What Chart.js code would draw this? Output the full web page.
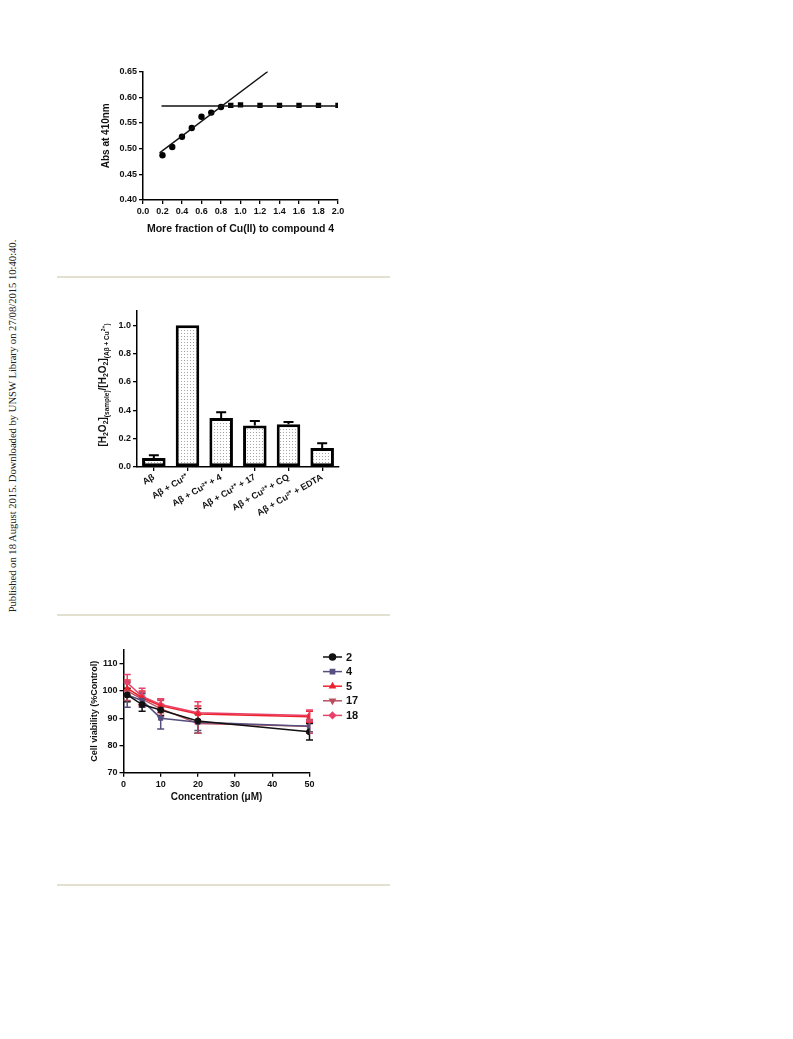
<!DOCTYPE html>
<html lang="en">

<head>
    <meta charset="UTF-8">
    <title>Cu(II) binding, H2O2 and cell viability</title>
    <style>
        body { margin: 0; background: #fff; width: 793px; height: 1039px; position: relative; overflow: hidden; }
        .box { position: absolute; }
        .rule { position: absolute; left: 57px; width: 333px; height: 2px; background: #e3e0d0; }
        #side {
            position: absolute; left: 12px; top: 426px; white-space: nowrap;
            font-family: "Liberation Serif", serif; font-size: 10.6px; color: #222;
            transform: translate(-50%, -50%) rotate(-90deg);
        }
    </style>
</head>

<body>

    <div id="side">Published on 18 August 2015. Downloaded by UNSW Library on 27/08/2015 10:40:40.</div>

    <div class="box" style="left: 88px; top: 58px;"><canvas id="chart1" width="265" height="185"></canvas></div>
    <div class="rule" style="top: 276px;"></div>

    <div class="box" style="left: 85px; top: 300px;"><canvas id="chart2" width="265" height="235"></canvas></div>
    <div class="rule" style="top: 614px;"></div>

    <div class="box" style="left: 75px; top: 640px;"><canvas id="chart3" width="300" height="171"></canvas></div>
    <div class="rule" style="top: 884px;"></div>

    <script src="https://cdn.jsdelivr.net/npm/chart.js"></script>
    <script>
        // ---- chart 1 : titration ----
        const v_circX = [0.2, 0.3, 0.4, 0.5, 0.6, 0.7, 0.8];
        const v_circY = [0.487, 0.503, 0.523, 0.540, 0.562, 0.570, 0.581];
        const v_sqX = [0.9, 1.0, 1.2, 1.4, 1.6, 1.8, 2.0];
        const v_sqY = [0.584, 0.585, 0.584, 0.584, 0.584, 0.584, 0.584];
        const v_slopeX = [0.17, 1.28];
        const v_slopeY = [0.4917, 0.65];
        const v_flatX = [0.19, 2.0];
        const v_flatY = [0.583, 0.583];

        // ---- chart 2 : H2O2 ----
        const v_groups = ['Aβ', 'Aβ + Cu²⁺', 'Aβ + Cu²⁺ + 4', 'Aβ + Cu²⁺ + 17', 'Aβ + Cu²⁺ + CQ', 'Aβ + Cu²⁺ + EDTA'];
        const v_ratio = [0.064, 1.0, 0.346, 0.292, 0.301, 0.134];
        const v_ratioErr = [0.018, 0, 0.04, 0.033, 0.017, 0.033];

        // ---- chart 3 : cell viability ----
        const v_conc = [1, 5, 10, 20, 50];
        const v_names = ['2', '4', '5', '17', '18'];
        const v_s2 = [98.5, 95, 93, 89, 85];
        const v_s4 = [98.5, 96.5, 90, 88.5, 87];
        const v_s5 = [101, 97.5, 94.5, 91.5, 90.5];
        const v_s17 = [100, 97, 93.5, 88, 87];
        const v_s18 = [103, 98, 95, 92, 91];
        const v_e2 = [2.5, 2.5, 2, 4.5, 3];
        const v_e4 = [4.5, 2.5, 4, 3, 2];
        const v_e5 = [3, 2.5, 2.5, 3, 2];
        const v_e17 = [3.5, 2.5, 3, 3.5, 2.5];
        const v_e18 = [3, 3, 2, 4, 2];

        const FONT = '"Liberation Sans", Arial, sans-serif';
        Chart.defaults.font.family = FONT;
        Chart.defaults.color = '#111';

        function pairs(xs, ys) {
            return xs.map((x, i) => ({ x: x, y: ys[i] }));
        }

        function axisStyle() {
            return {
                grid: { drawOnChartArea: false, color: '#000', tickLength: 4, lineWidth: 1.3 },
                border: { color: '#000', width: 1.5 },
            };
        }

        // chart 1
        const c1x = axisStyle(), c1y = axisStyle();
        new Chart(document.getElementById('chart1'), {
            type: 'scatter',
            data: {
                datasets: [
                    { data: pairs(v_slopeX, v_slopeY), showLine: true, pointRadius: 0, borderColor: '#111', borderWidth: 1.4 },
                    { data: pairs(v_flatX, v_flatY), showLine: true, pointRadius: 0, borderColor: '#111', borderWidth: 1.4 },
                    { data: pairs(v_circX, v_circY), pointStyle: 'circle', pointRadius: 3.2, backgroundColor: '#000', borderColor: '#000', borderWidth: 0 },
                    { data: pairs(v_sqX, v_sqY), pointStyle: 'rect', pointRadius: 3.8, backgroundColor: '#000', borderColor: '#000', borderWidth: 0 },
                ]
            },
            options: {
                responsive: false, animation: false,
                layout: { padding: { left: 8.5, top: 13.5, right: 15, bottom: 4 } },
                plugins: { legend: { display: false }, tooltip: { enabled: false } },
                scales: {
                    x: {
                        type: 'linear', min: 0, max: 2,
                        grid: c1x.grid, border: c1x.border,
                        ticks: { stepSize: 0.2, color: '#111', padding: 2, font: { size: 9, weight: 'bold' }, callback: v => v.toFixed(1), maxRotation: 0 },
                        title: { display: true, text: 'More fraction of Cu(II) to compound 4', color: '#111', font: { size: 10.5, weight: 'bold' } },
                        afterFit: s => { s.height = 39; }
                    },
                    y: {
                        min: 0.4, max: 0.65,
                        grid: c1y.grid, border: c1y.border,
                        ticks: { stepSize: 0.05, color: '#111', padding: 2, font: { size: 9, weight: 'bold' }, callback: v => v.toFixed(2) },
                        title: { display: true, text: 'Abs at 410nm', color: '#111', font: { size: 10, weight: 'bold' } },
                        afterFit: s => { s.width = 46.5; }
                    }
                }
            }
        });

        // chart 2
        const pc = document.createElement('canvas');
        pc.width = 3; pc.height = 3;
        const pctx = pc.getContext('2d');
        pctx.fillStyle = '#fff'; pctx.fillRect(0, 0, 3, 3);
        pctx.fillStyle = '#a6a6a6'; pctx.fillRect(0, 0, 1, 1);
        const stipple = pctx.createPattern(pc, 'repeat');

        const barErrors = {
            id: 'barErrors',
            afterDatasetsDraw(chart) {
                const ctx = chart.ctx, ys = chart.scales.y;
                const meta = chart.getDatasetMeta(0);
                ctx.save();
                ctx.strokeStyle = '#000'; ctx.lineWidth = 2;
                meta.data.forEach((bar, i) => {
                    if (!v_ratioErr[i]) return;
                    const y0 = ys.getPixelForValue(v_ratio[i]);
                    const y1 = ys.getPixelForValue(v_ratio[i] + v_ratioErr[i]);
                    ctx.beginPath();
                    ctx.moveTo(bar.x, y0); ctx.lineTo(bar.x, y1);
                    ctx.moveTo(bar.x - 5, y1); ctx.lineTo(bar.x + 5, y1);
                    ctx.stroke();
                });
                ctx.restore();
            }
        };

        // y-axis title with sub/superscripts
        const richTitle = {
            id: 'richTitle',
            afterDraw(chart) {
                const ctx = chart.ctx;
                const parts = [
                    ['[H', 10, 0], ['2', 7, 2.5], ['O', 10, 0], ['2', 7, 2.5], [']', 10, 0],
                    ['(sample)', 6.5, 3],
                    ['/[H', 10, 0], ['2', 7, 2.5], ['O', 10, 0], ['2', 7, 2.5], [']', 10, 0],
                    ['(Aβ + Cu', 6.5, 3], ['2+', 5, -0.5], [')', 6.5, 3]
                ];
                ctx.save();
                let w = 0;
                parts.forEach(p => { ctx.font = 'bold ' + p[1] + 'px ' + FONT; w += ctx.measureText(p[0]).width; });
                ctx.translate(102 - 85, 385 - 300);
                ctx.rotate(-Math.PI / 2);
                ctx.fillStyle = '#111';
                ctx.textBaseline = 'alphabetic';
                let x = -w / 2;
                parts.forEach(p => {
                    ctx.font = 'bold ' + p[1] + 'px ' + FONT;
                    ctx.fillText(p[0], x, 3.5 + p[2]);
                    x += ctx.measureText(p[0]).width;
                });
                ctx.restore();
            }
        };

        const c2x = axisStyle(), c2y = axisStyle();
        c2x.grid.offset = false;
        new Chart(document.getElementById('chart2'), {
            type: 'bar',
            data: {
                labels: v_groups,
                datasets: [{
                    data: v_ratio,
                    backgroundColor: stipple,
                    borderColor: '#000',
                    borderWidth: 3,
                    borderSkipped: false,
                    barPercentage: 0.7,
                    categoryPercentage: 1
                }]
            },
            options: {
                responsive: false, animation: false,
                layout: { padding: { left: 0, top: 11, right: 11, bottom: 0 } },
                plugins: { legend: { display: false }, tooltip: { enabled: false } },
                scales: {
                    x: {
                        grid: c2x.grid, border: c2x.border,
                        ticks: { color: '#111', padding: 1, minRotation: 30, maxRotation: 30, autoSkip: false, font: { size: 9, weight: 'bold' } },
                        afterFit: s => { s.height = 68; }
                    },
                    y: {
                        min: 0, max: 1.1,
                        grid: c2y.grid, border: c2y.border,
                        ticks: { stepSize: 0.2, color: '#111', padding: 2, font: { size: 9, weight: 'bold' }, callback: v => v.toFixed(1) },
                        afterBuildTicks: s => { s.ticks = s.ticks.filter(t => t.value <= 1.0001); },
                        afterFit: s => { s.width = 52; }
                    }
                }
            },
            plugins: [barErrors, richTitle]
        });

        // chart 3
        const v_series = [v_s2, v_s4, v_s5, v_s17, v_s18];
        const v_errs = [v_e2, v_e4, v_e5, v_e17, v_e18];
        const colors = ['#111111', '#55507f', '#ec2430', '#b9505f', '#e8426c'];
        const styles = ['circle', 'rect', 'triangle', 'triangle', 'rectRot'];
        const rots = [0, 0, 0, 180, 0];

        const lineErrors = {
            id: 'lineErrors',
            beforeDatasetsDraw(chart) {
                const ctx = chart.ctx, ys = chart.scales.y;
                ctx.save();
                ctx.lineWidth = 1.5;
                v_series.forEach((s, d) => {
                    const meta = chart.getDatasetMeta(d);
                    ctx.strokeStyle = colors[d];
                    meta.data.forEach((pt, i) => {
                        const yt = ys.getPixelForValue(s[i] + v_errs[d][i]);
                        const yb = ys.getPixelForValue(s[i] - v_errs[d][i]);
                        ctx.beginPath();
                        ctx.moveTo(pt.x, yt); ctx.lineTo(pt.x, yb);
                        ctx.moveTo(pt.x - 3.5, yt); ctx.lineTo(pt.x + 3.5, yt);
                        ctx.moveTo(pt.x - 3.5, yb); ctx.lineTo(pt.x + 3.5, yb);
                        ctx.stroke();
                    });
                });
                ctx.restore();
            }
        };

        const sideLegend = {
            id: 'sideLegend',
            afterDraw(chart) {
                const ctx = chart.ctx;
                ctx.save();
                v_names.forEach((n, i) => {
                    const y = 657 - 640 + i * 14.6;
                    ctx.strokeStyle = colors[i]; ctx.lineWidth = 1.5;
                    ctx.beginPath(); ctx.moveTo(323 - 75, y); ctx.lineTo(342 - 75, y); ctx.stroke();
                    ctx.fillStyle = colors[i]; ctx.strokeStyle = colors[i];
                    Chart.helpers.drawPoint(ctx, { pointStyle: styles[i], radius: 3, rotation: rots[i], borderWidth: 1 }, 332.5 - 75, y);
                    ctx.fillStyle = '#111';
                    ctx.font = 'bold 11px ' + FONT;
                    ctx.textBaseline = 'middle';
                    ctx.fillText(n, 346 - 75, y + 0.5);
                });
                ctx.restore();
            }
        };

        const c3x = axisStyle(), c3y = axisStyle();
        new Chart(document.getElementById('chart3'), {
            type: 'line',
            data: {
                datasets: v_series.map((s, d) => ({
                    label: v_names[d],
                    data: pairs(v_conc, s),
                    borderColor: colors[d],
                    backgroundColor: colors[d],
                    borderWidth: 1.5,
                    pointStyle: styles[d],
                    pointRotation: rots[d],
                    pointRadius: 3,
                    pointBorderWidth: 1,
                    tension: 0
                }))
            },
            options: {
                responsive: false, animation: false,
                layout: { padding: { left: 10, top: 10, right: 65.5, bottom: 4 } },
                plugins: { legend: { display: false }, tooltip: { enabled: false } },
                scales: {
                    x: {
                        type: 'linear', min: 0, max: 50,
                        grid: c3x.grid, border: c3x.border,
                        ticks: { stepSize: 10, color: '#111', padding: 2, font: { size: 9, weight: 'bold' }, maxRotation: 0 },
                        title: { display: true, text: 'Concentration (μM)', color: '#111', font: { size: 10, weight: 'bold' } },
                        afterFit: s => { s.height = 34.3; }
                    },
                    y: {
                        min: 70, max: 115,
                        grid: c3y.grid, border: c3y.border,
                        ticks: { stepSize: 10, color: '#111', padding: 2, font: { size: 9, weight: 'bold' } },
                        afterBuildTicks: s => { s.ticks = s.ticks.filter(t => t.value <= 110); },
                        title: { display: true, text: 'Cell viability (%Control)', color: '#111', font: { size: 9, weight: 'bold' } },
                        afterFit: s => { s.width = 38.5; }
                    }
                }
            },
            plugins: [lineErrors, sideLegend]
        });
    </script>
</body>

</html>
